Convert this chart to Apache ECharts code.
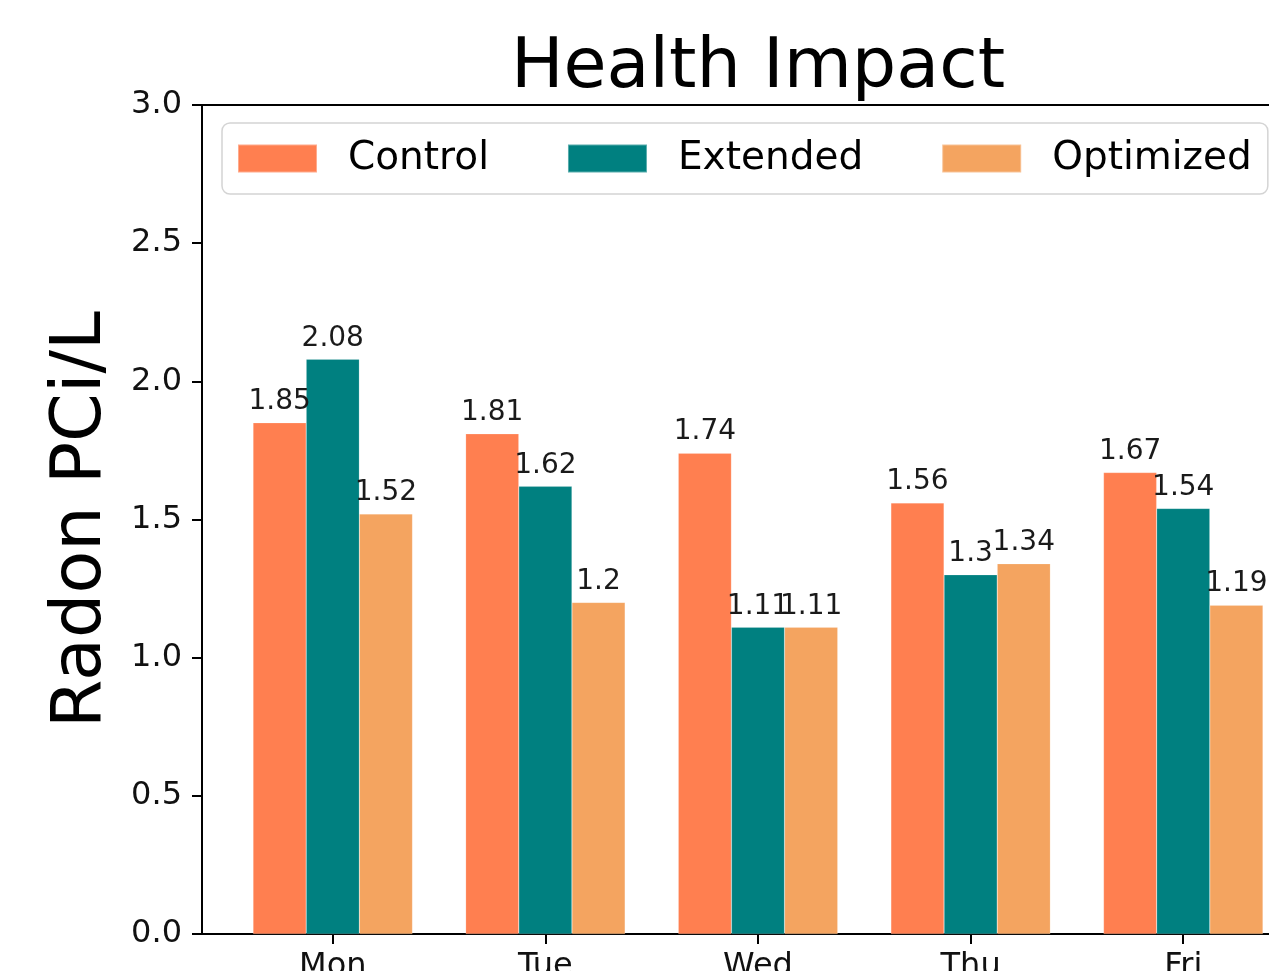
<!DOCTYPE html>
<html>
<head>
<meta charset="utf-8">
<script src="https://cdn.jsdelivr.net/npm/echarts@6/dist/echarts.min.js"></script>
<style>
html,body{margin:0;padding:0;background:#fff;}
#chart{width:1269px;height:971px;}
</style>
</head>
<body>
<div id="chart"></div>
<script>
const categories = ['Mon', 'Tue', 'Wed', 'Thu', 'Fri'];
const seriesNames = ['Control', 'Extended', 'Optimized'];
const controlValues = [1.85, 1.81, 1.74, 1.56, 1.67];
const extendedValues = [2.08, 1.62, 1.11, 1.3, 1.54];
const optimizedValues = [1.52, 1.2, 1.11, 1.34, 1.19];
const yTicks = [0, 0.5, 1.0, 1.5, 2.0, 2.5, 3.0];
const colors = ['#FF7F50', '#008080', '#F4A460'];

const FONT = 'DejaVu Sans';
const allValues = [controlValues, extendedValues, optimizedValues];
const catIndex = categories.map((c, i) => i);

const chart = echarts.init(document.getElementById('chart'), null, {renderer: 'canvas'});

const series = seriesNames.map((name, s) => ({
  name: name,
  type: 'bar',
  data: allValues[s].map((v, i) => [i, v]),
  barWidth: '25%',
  barGap: '0%',
  itemStyle: {color: colors[s], borderColor: 'rgba(255,255,255,0.35)', borderWidth: 0.5},
  label: {
    show: true,
    position: 'top',
    distance: 7,
    fontFamily: FONT,
    fontSize: 28,
    color: '#1a1a1a',
    formatter: p => String(p.value[1])
  },
  emphasis: {disabled: true}
}));

chart.setOption({
  animation: false,
  backgroundColor: '#fff',
  title: {
    text: 'Health Impact',
    left: 758,
    top: 34,
    padding: 0,
    textAlign: 'center',
    textStyle: {fontFamily: FONT, fontSize: 70, fontWeight: 'normal', color: '#000'}
  },
  legend: {
    data: seriesNames,
    left: 222,
    top: 123,
    orient: 'horizontal',
    itemWidth: 79,
    itemHeight: 28,
    itemGap: 78,
    padding: [16, 16, 16, 15],
    backgroundColor: 'rgba(255,255,255,0.8)',
    borderColor: '#d4d4d4',
    borderWidth: 1.5,
    borderRadius: 8,
    icon: 'rect',
    textStyle: {fontFamily: FONT, fontSize: 39, color: '#000', padding: [0, 0, 0, 26]},
    selectedMode: false
  },
  grid: {
    left: 202,
    right: -45,
    top: 105,
    bottom: 37,
    show: true,
    borderColor: '#000',
    borderWidth: 2,
    backgroundColor: 'transparent',
    containLabel: false,
    outerBoundsMode: 'none'
  },
  xAxis: {
    type: 'value',
    min: -0.615,
    max: 4.615,
    splitLine: {show: false},
    axisLine: {show: true, onZero: false, lineStyle: {color: '#000', width: 2}},
    axisTick: {show: true, length: 10, lineStyle: {color: '#000', width: 2}, customValues: catIndex},
    axisLabel: {
      fontFamily: FONT, fontSize: 32, color: '#111', margin: 17,
      customValues: catIndex,
      formatter: v => categories[Math.round(v)]
    }
  },
  yAxis: {
    type: 'value',
    min: 0,
    max: 3,
    interval: 0.5,
    name: 'Radon PCi/L',
    nameLocation: 'middle',
    nameGap: 85,
    nameTextStyle: {fontFamily: FONT, fontSize: 70, color: '#000'},
    splitLine: {show: false},
    axisLine: {show: true, onZero: false, lineStyle: {color: '#000', width: 2}},
    axisTick: {show: true, length: 10, lineStyle: {color: '#000', width: 2}},
    axisLabel: {
      fontFamily: FONT, fontSize: 32, color: '#111', margin: 20,
      formatter: v => v.toFixed(1)
    }
  },
  series: series
});
</script>
</body>
</html>
